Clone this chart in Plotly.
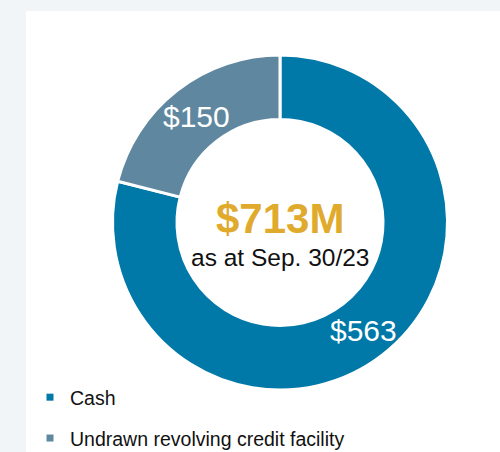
import math
import plotly.graph_objects as go

categories = ["Cash", "Undrawn revolving credit facility"]
values = [563, 150]
colors = ["#0078a8", "#5f88a0"]
date_label = "as at Sep. 30/23"

total = sum(values)
FONT = "Liberation Sans, Arial, sans-serif"
W, H = 500, 452
CX, CY, R_OUT, HOLE = 280, 222.5, 167.5, 0.615

dom_x = [(CX - R_OUT) / W, (CX + R_OUT) / W]
dom_y = [(H - CY - R_OUT) / H, (H - CY + R_OUT) / H]

fig = go.Figure()
fig.add_trace(go.Pie(
    labels=categories, values=values, hole=HOLE, sort=False,
    direction="clockwise", rotation=0,
    marker=dict(colors=colors, line=dict(color="white", width=3)),
    textinfo="none", showlegend=False, hoverinfo="skip",
    domain=dict(x=dom_x, y=dom_y),
))
for c, col in zip(categories, colors):
    fig.add_trace(go.Scatter(
        x=[None], y=[None], mode="markers", name=c, legendgroup=c,
        marker=dict(symbol="square", size=7, color=col), showlegend=True,
    ))

# slice value labels at the middle of each ring segment
r_mid = R_OUT * (1 + HOLE) / 2
cum = 0
for v in values:
    ang = 2 * math.pi * (cum + v / 2) / total
    cum += v
    px = CX + r_mid * math.sin(ang)
    py = CY - r_mid * math.cos(ang)
    fig.add_annotation(x=px / W, y=(H - py - 1) / H, xref="paper", yref="paper",
                       xanchor="center", yanchor="middle",
                       showarrow=False, text=f"${v}",
                       font=dict(family=FONT, size=30, color="white"))

fig.add_annotation(x=CX / W, y=(H - 218) / H, xref="paper", yref="paper", showarrow=False,
                   xanchor="center", yanchor="middle",
                   text=f"<b>${total}M</b>", font=dict(family=FONT, size=42, color="#e0aa2c"))
fig.add_annotation(x=CX / W, y=(H - 257) / H, xref="paper", yref="paper", showarrow=False,
                   xanchor="center", yanchor="middle",
                   text=date_label, font=dict(family=FONT, size=24.5, color="#111111"))

fig.add_shape(type="rect", xref="paper", yref="paper", x0=26 / W, x1=1.01, y0=-0.01, y1=(H - 11) / H,
              fillcolor="white", line=dict(width=0), layer="below")

fig.update_layout(
    width=W, height=H, margin=dict(l=0, r=0, t=0, b=0, autoexpand=False),
    paper_bgcolor="#f2f5f8", plot_bgcolor="rgba(0,0,0,0)",
    xaxis=dict(visible=False), yaxis=dict(visible=False),
    legend=dict(x=30 / W, y=(H - 378) / H, xanchor="left", yanchor="top",
                font=dict(family=FONT, size=19.5, color="#111111"),
                tracegroupgap=12.5, bgcolor="rgba(0,0,0,0)"),
)
fig.write_html("out.html", config={"displayModeBar": False},
               post_script="document.body.style.margin='0';document.body.style.overflow='hidden';")
